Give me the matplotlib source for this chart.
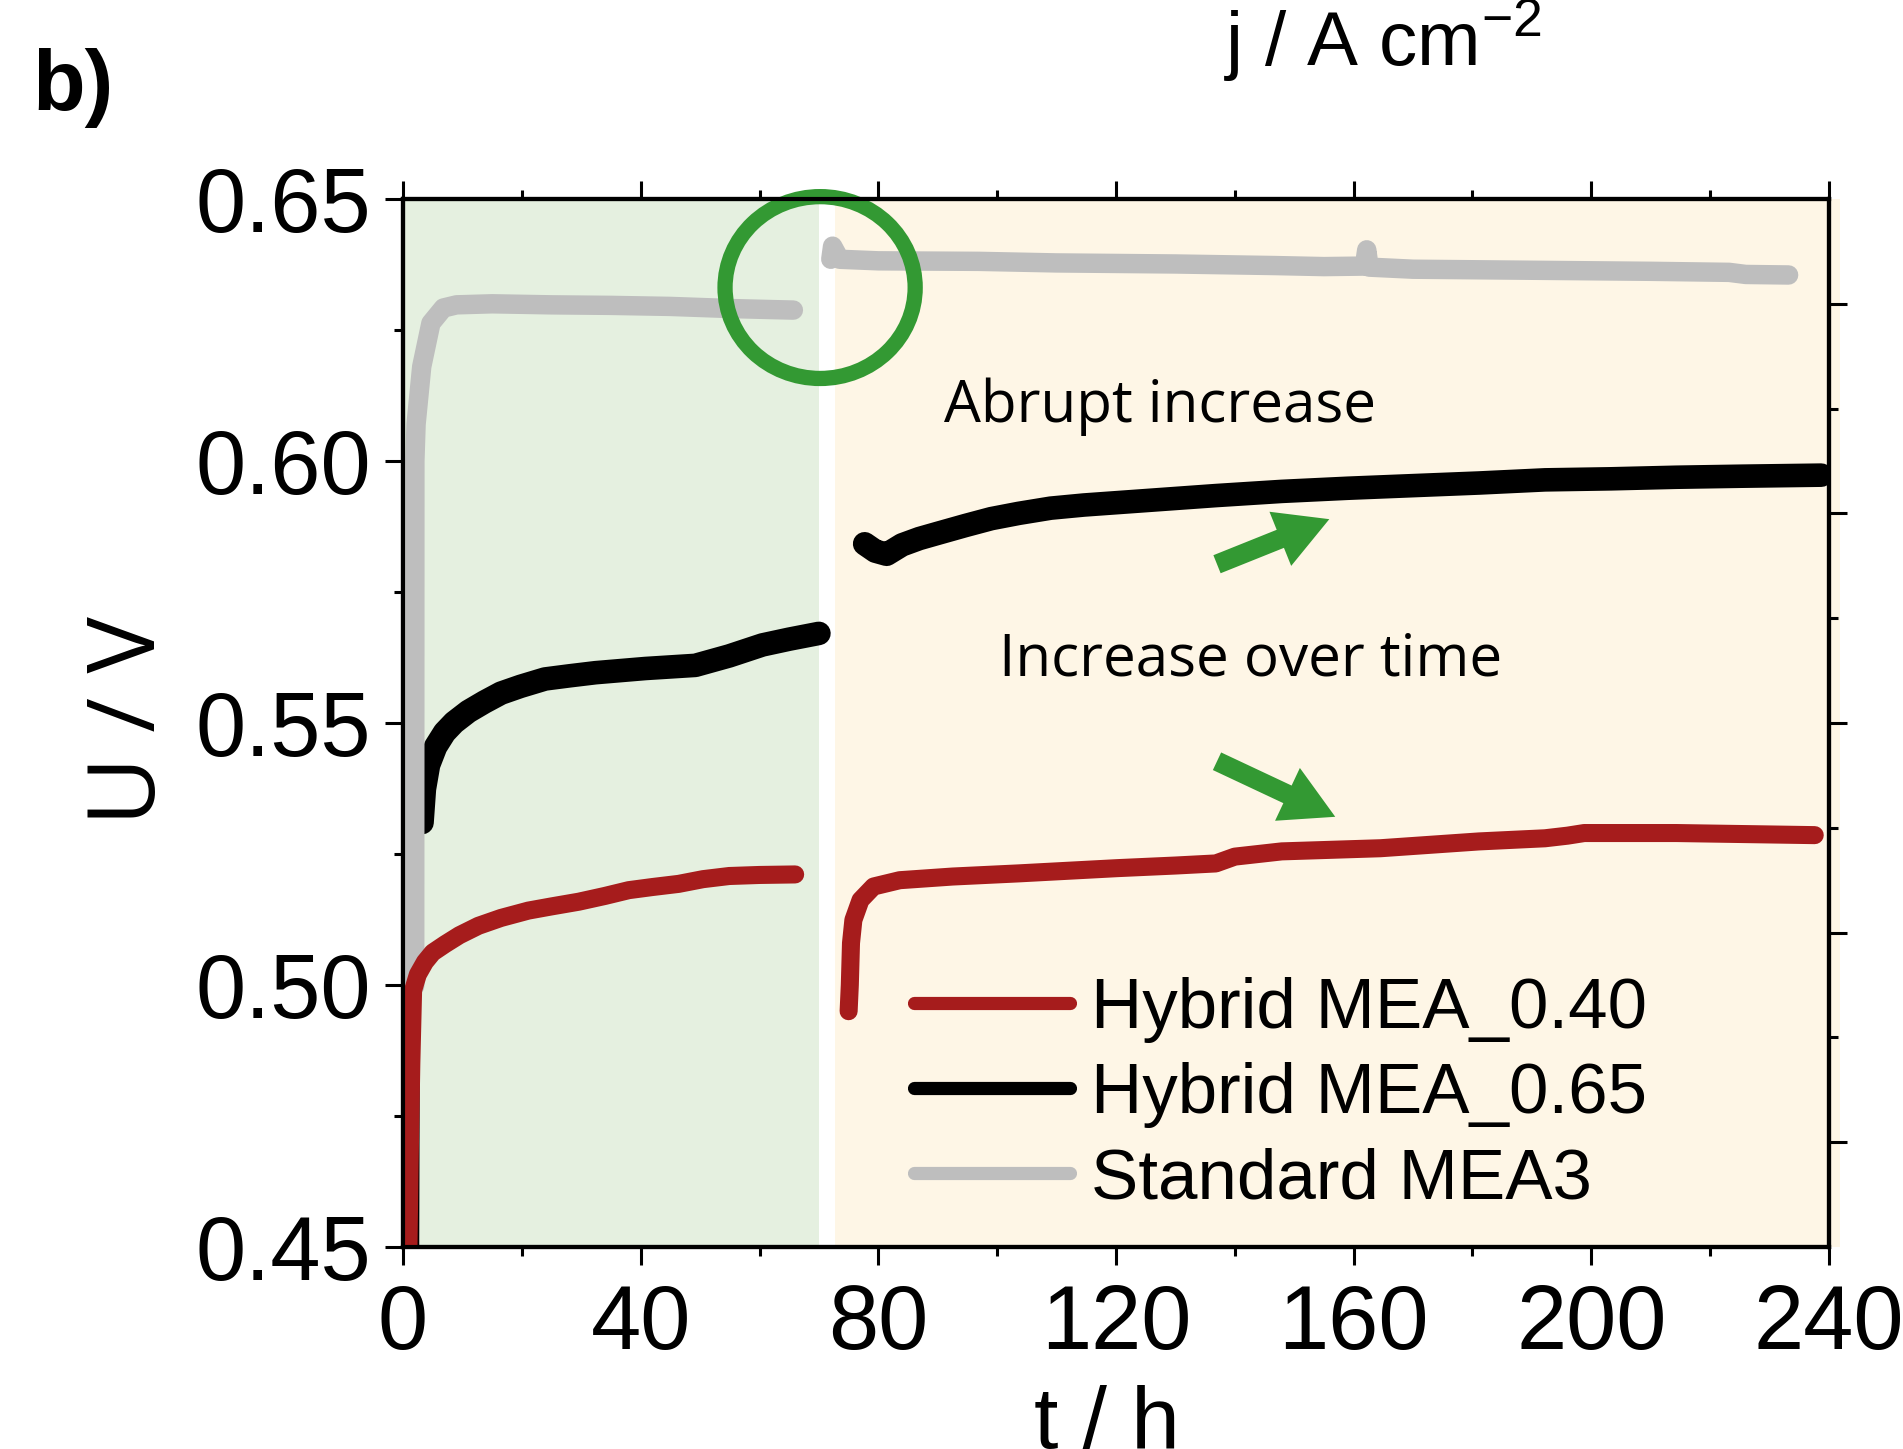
import matplotlib
matplotlib.use('Agg')
import matplotlib.pyplot as plt
from matplotlib.patches import Ellipse
from matplotlib.lines import Line2D
from matplotlib.ticker import FixedLocator, NullFormatter

plt.rcParams['font.family'] = ['Liberation Sans', 'DejaVu Sans']
plt.rcParams['mathtext.fontset'] = 'custom'
plt.rcParams['mathtext.rm'] = 'Liberation Sans'

# ---------------- data ----------------
# Hybrid MEA_0.40 (red)
t_red_1 = [0.8, 1.1, 1.4, 1.7, 2.5, 3.7, 5.0, 7.1, 9.5, 12.7, 16.5, 21.1, 25.0,
           29.6, 34.0, 38.0, 42.0, 46.4, 50.5, 54.9, 60.0, 66.0]
u_red_1 = [0.440, 0.465, 0.485, 0.499, 0.502, 0.5044, 0.5062, 0.5078, 0.5095,
           0.5113, 0.5128, 0.5142, 0.5150, 0.5159, 0.5170, 0.5181, 0.5187,
           0.5193, 0.5202, 0.5208, 0.5210, 0.5211]
t_red_2 = [75.0, 75.2, 75.4, 75.8, 77.0, 79.2, 83.6, 92.5, 103.6, 120.2, 130.0,
           136.8, 140.0, 147.9, 164.5, 181.1, 192.2, 196.0, 198.8, 214.3, 237.6]
u_red_2 = [0.4950, 0.500, 0.508, 0.5124, 0.5162, 0.5188, 0.5200, 0.5207, 0.5213,
           0.5223, 0.5228, 0.5232, 0.5245, 0.5255, 0.5261, 0.5274, 0.5280,
           0.5285, 0.5290, 0.5290, 0.5286]

# Hybrid MEA_0.65 (black)
t_blk_1 = [2.3, 2.4, 2.5, 2.8, 3.2, 3.6, 4.3, 5.5, 7.0, 8.6, 11.0, 13.7, 16.5,
           19.8, 23.9, 28.0, 32.4, 40.8, 49.2, 54.9, 60.5, 65.0, 70.0]
u_blk_1 = [0.440, 0.480, 0.510, 0.524, 0.531, 0.5374, 0.5420, 0.5455, 0.5482,
           0.5501, 0.5522, 0.5540, 0.5557, 0.5570, 0.5584, 0.5590, 0.5596,
           0.5604, 0.5610, 0.5628, 0.5649, 0.5660, 0.5671]
t_blk_2 = [77.7, 79.5, 81.4, 84.0, 86.9, 90.0, 94.7, 99.0, 103.6, 109.0, 114.6,
           125.7, 136.8, 147.9, 159.0, 170.0, 181.1, 192.2, 203.3, 214.3, 225.4,
           238.7]
u_blk_2 = [0.5842, 0.5828, 0.5822, 0.5840, 0.5852, 0.5862, 0.5877, 0.5890,
           0.5900, 0.5910, 0.5916, 0.5925, 0.5934, 0.5942, 0.5948, 0.5953,
           0.5958, 0.5964, 0.5966, 0.5969, 0.5971, 0.5973]

# Standard MEA3 (grey)
t_gry_1 = [1.97, 2.0, 2.2, 3.15, 4.7, 6.8, 9.0, 15.0, 25.0, 35.0, 45.0, 55.0,
           62.0, 65.7]
u_gry_1 = [0.4998, 0.600, 0.607, 0.618, 0.6263, 0.6292, 0.6298, 0.6300, 0.6298,
           0.6297, 0.6295, 0.6291, 0.6289, 0.6288]
t_gry_2 = [72.0, 72.3, 73.5, 80.0, 96.9, 110.0, 130.0, 146.7, 155.0, 161.8,
           162.2, 162.6, 170.0, 190.0, 210.0, 223.2, 226.0, 233.2]
u_gry_2 = [0.6385, 0.6410, 0.6385, 0.6382, 0.6381, 0.6378, 0.6376, 0.6373,
           0.6371, 0.6372, 0.6403, 0.6370, 0.6366, 0.6364, 0.6362, 0.6360,
           0.6356, 0.6355]

labels = ['Hybrid MEA_0.40', 'Hybrid MEA_0.65', 'Standard MEA3']
x_ticks = [0, 40, 80, 120, 160, 200, 240]
y_ticks = [0.45, 0.50, 0.55, 0.60, 0.65]

# ---------------- styling ----------------
RED = '#A61C1C'
BLK = '#000000'
GRY = '#BEBEBE'
GRN = '#339933'
BG_GREEN = '#E5F0E0'
BG_YELL = '#FEF6E6'

W, H = 1903, 1449
DPI = 100
fig = plt.figure(figsize=(W / DPI, H / DPI), dpi=DPI)
ax = fig.add_axes([403 / W, 1 - 1247 / H, (1829 - 403) / W, (1247 - 199) / H])
ax.set_xlim(0, 240)
ax.set_ylim(0.45, 0.65)

ax.axvspan(0, 70.0, color=BG_GREEN, lw=0, zorder=0)
ax.axvspan(72.7, 241.8, color=BG_YELL, lw=0, zorder=0, clip_on=False)

kw = dict(solid_capstyle='round', solid_joinstyle='round')
# steep onset of the black trace is drawn thin, as in the original
ax.plot(t_blk_1[:5], u_blk_1[:5], color=BLK, lw=3.5, zorder=2, **kw)
ax.plot(t_blk_1[4:], u_blk_1[4:], color=BLK, lw=17, zorder=2, **kw)
ax.plot(t_blk_2, u_blk_2, color=BLK, lw=17, zorder=2, **kw)
ax.plot(t_gry_1, u_gry_1, color=GRY, lw=14, zorder=3, **kw)
ax.plot(t_gry_2, u_gry_2, color=GRY, lw=14, zorder=3, **kw)
ax.plot(t_red_1, u_red_1, color=RED, lw=13, zorder=4, **kw)
ax.plot(t_red_2, u_red_2, color=RED, lw=13, zorder=4, **kw)

# ticks
ax.xaxis.set_major_locator(FixedLocator(x_ticks))
ax.xaxis.set_minor_locator(FixedLocator([20, 60, 100, 140, 180, 220]))
ax.yaxis.set_major_locator(FixedLocator(y_ticks))
ax.yaxis.set_minor_locator(FixedLocator([0.475, 0.525, 0.575, 0.625]))
ax.set_xticklabels([str(v) for v in x_ticks])
ax.set_yticklabels(['%.2f' % v for v in y_ticks])
ax.tick_params(which='both', direction='out', top=True, right=False, width=2.2)
ax.tick_params(which='major', length=13, labelsize=65)
ax.tick_params(which='minor', length=6.5)
ax.tick_params(axis='x', which='major', pad=13)
ax.tick_params(axis='y', which='major', pad=10)
for s in ax.spines.values():
    s.set_linewidth(3)

ax2 = ax.twinx()
ax2.set_ylim(0, 1)
ax2.yaxis.set_major_locator(FixedLocator([0.1, 0.3, 0.5, 0.7, 0.9]))
ax2.yaxis.set_minor_locator(FixedLocator([0.2, 0.4, 0.6, 0.8]))
ax2.yaxis.set_major_formatter(NullFormatter())
ax2.tick_params(which='both', direction='out', width=2.2)
ax2.tick_params(which='major', length=13)
ax2.tick_params(which='minor', length=6.5)
for s in ax2.spines.values():
    s.set_linewidth(3)

# annotations
circ = Ellipse((70.2, 0.6331), width=32.0, height=0.0347, fill=False,
               edgecolor=GRN, lw=11, clip_on=False, zorder=6)
ax.add_patch(circ)
ax.text(91.1, 0.6074, 'Abrupt increase', family=['Open Sans', 'DejaVu Sans'],
        fontsize=42, va='baseline', ha='left', zorder=6)
ax.text(100.3, 0.5590, 'Increase over time', family=['Open Sans', 'DejaVu Sans'],
        fontsize=42, va='baseline', ha='left', zorder=6)
arrow_style = 'simple,head_width=4.2,head_length=3.8,tail_width=1.4'
ax.annotate('', xy=(155.9, 0.5889), xytext=(137.0, 0.5803),
            arrowprops=dict(arrowstyle=arrow_style, color=GRN, lw=0,
                            shrinkA=0, shrinkB=0, mutation_scale=10), zorder=6)
ax.annotate('', xy=(156.9, 0.5321), xytext=(137.0, 0.5427),
            arrowprops=dict(arrowstyle=arrow_style, color=GRN, lw=0,
                            shrinkA=0, shrinkB=0, mutation_scale=10), zorder=6)

# legend
handles = [Line2D([], [], color=RED, lw=9.5, solid_capstyle='round'),
           Line2D([], [], color=BLK, lw=9.5, solid_capstyle='round'),
           Line2D([], [], color=GRY, lw=9.5, solid_capstyle='round')]
leg = ax.legend(handles, labels, loc='upper left',
                bbox_to_anchor=(914 / W, 1 - 977 / H), bbox_transform=fig.transFigure,
                frameon=False, fontsize=51, handlelength=2.2, handletextpad=0.3,
                labelspacing=0.27, borderpad=0, borderaxespad=0)
leg.set_zorder(7)

# figure texts
fig.text(131 / W, 1 - 721 / H, 'U / V', rotation=90, ha='center', va='center',
         family=['Open Sans', 'DejaVu Sans'], fontsize=68)
fig.text(1107 / W, 1 - 1448 / H, 't / h', ha='center', va='baseline', fontsize=63)
fig.text(32 / W, 1 - 110 / H, 'b)', ha='left', va='baseline', fontsize=62,
         fontweight='bold')
fig.text(1224 / W, 1 - 67 / H, r'j / A cm$^{\mathregular{-2}}$', ha='left',
         va='baseline', fontsize=55)

fig.savefig('out.png', dpi=DPI)
